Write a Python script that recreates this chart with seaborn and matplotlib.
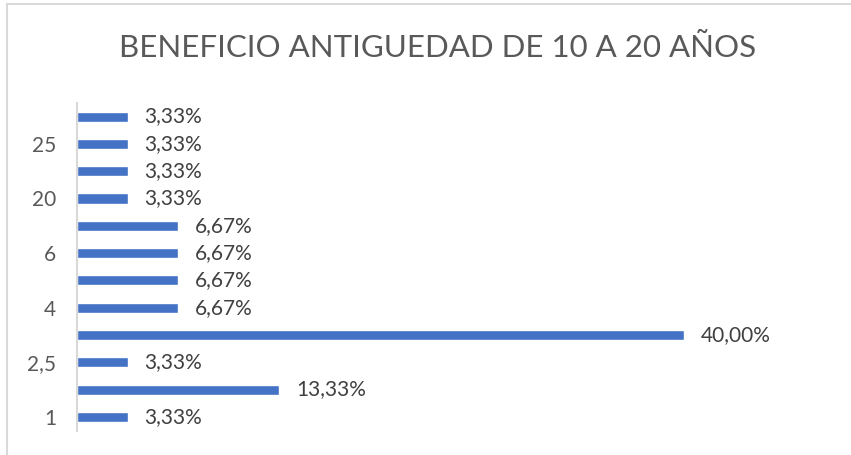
import seaborn as sns
import matplotlib.pyplot as plt
import pandas as pd
from matplotlib.lines import Line2D

# categories from bottom to top (odd ones are not shown on the axis)
categorias = ["1", "2", "2,5", "3", "4", "5", "6", "10", "20", "22", "25", "30"]
porcentajes = [3.33, 13.33, 3.33, 40.00, 6.67, 6.67, 6.67, 6.67, 3.33, 3.33, 3.33, 3.33]

df = pd.DataFrame({'categoria': categorias, 'porcentaje': porcentajes})

sns.set_theme(style='white')
plt.rcParams['font.family'] = ['Lato', 'DejaVu Sans']

fig = plt.figure(figsize=(8.51, 4.55), dpi=100)
ax = fig.add_axes([0.0905, 0.0538, 0.803, 0.72])

sns.barplot(data=df, x='porcentaje', y='categoria', order=categorias,
            orient='h', color='#4472C4', saturation=1, width=0.37, ax=ax)

ax.set_ylim(-0.5, len(categorias) - 0.5)
ax.set_xlim(0, 45)

# data labels
for i, v in enumerate(porcentajes):
    ax.annotate(f"{v:.2f}%".replace('.', ','), xy=(v, i), xytext=(12, 0),
                textcoords='offset points', ha='left', va='center',
                fontsize=15, color='#404040')

ax.set_yticks(range(0, len(categorias), 2))
ax.set_yticklabels(categorias[::2], fontsize=15, color='#595959')
ax.tick_params(axis='y', length=0, pad=15)
ax.set_xticks([])
ax.set_xlabel('')
ax.set_ylabel('')

for s in ['top', 'right', 'bottom']:
    ax.spines[s].set_visible(False)
ax.spines['left'].set_color('#d9d9d9')
ax.spines['left'].set_linewidth(1.5)

fig.text(0.514, 0.895, 'BENEFICIO ANTIGUEDAD DE 10 A 20 AÑOS', ha='center', va='center',
         fontsize=22.5, color='#595959')

# chart border (left and top edges visible)
fig.add_artist(Line2D([0.0082, 0.0082], [0, 0.991], transform=fig.transFigure,
                      color='#d9d9d9', lw=1.5))
fig.add_artist(Line2D([0.0082, 1], [0.991, 0.991], transform=fig.transFigure,
                      color='#d9d9d9', lw=1.5))

fig.savefig('out.png', dpi=100)
